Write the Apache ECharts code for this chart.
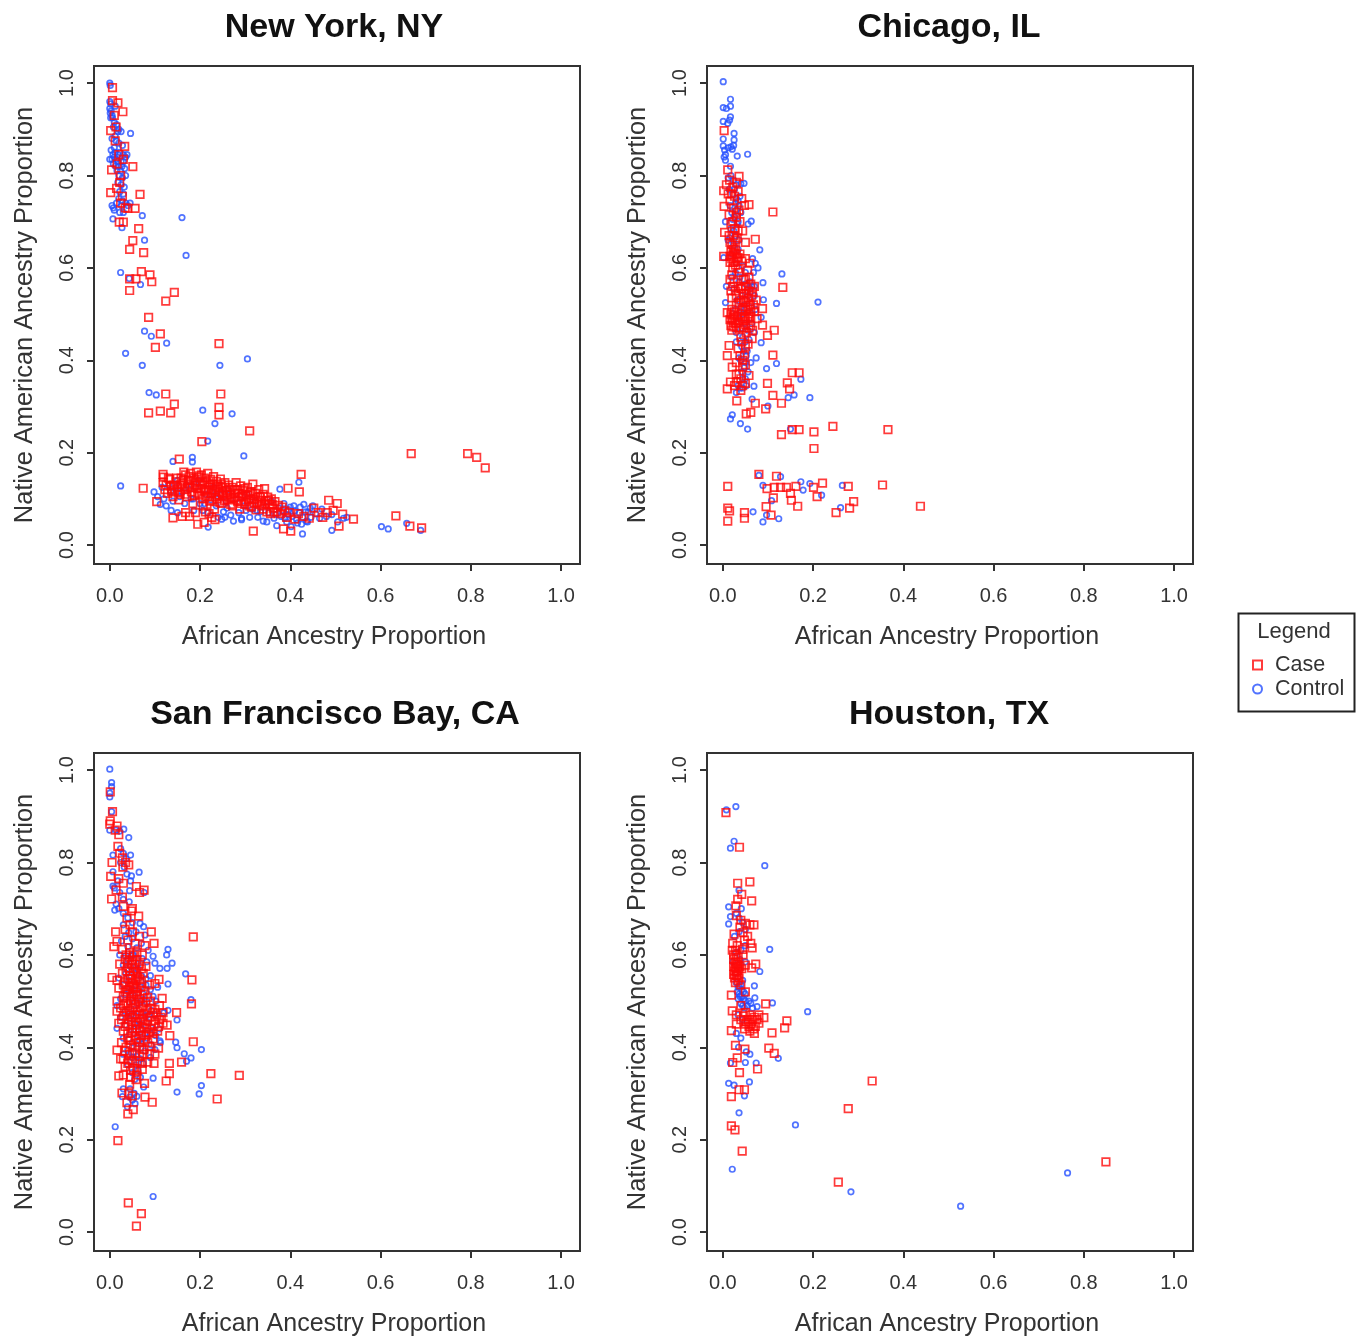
<!DOCTYPE html>
<html><head><meta charset="utf-8">
<style>html,body{margin:0;padding:0;background:#fff}#c{width:1360px;height:1338px}</style>
<script src="https://cdn.jsdelivr.net/npm/echarts@6/dist/echarts.min.js"></script>
</head><body><div id="c"></div>
<script>
const panelTitles = ["New York, NY","Chicago, IL","San Francisco Bay, CA","Houston, TX"];
const xName = "African Ancestry Proportion";
const yName = "Native American Ancestry Proportion";
const tickValues = [0,0.2,0.4,0.6,0.8,1.0];

const nyCase = [[.006,.99],[.018,.957],[.006,.962],[.029,.938],[.002,.897],[.033,.863],[.051,.819],[.067,.759],[.002,.763],[.056,.729],[.04,.729],[.015,.772],[.03,.699],[.021,.699],[.004,.812],[.03,.835],[.01,.93],[.014,.905],[.012,.875],[.02,.845],[.016,.825],[.024,.80],[.022,.785],[.028,.755],[.024,.74],[.034,.73],
[.064,.685],[.051,.659],[.044,.64],[.075,.633],[.07,.592],[.089,.585],[.093,.57],[.044,.576],[.058,.576],[.044,.551],[.143,.547],[.124,.528],[.086,.493],[.112,.457],[.101,.428],[.242,.436],[.124,.327],[.246,.327],[.143,.305],[.086,.286],[.112,.29],[.135,.286],[.242,.298],[.242,.282],[.31,.247],[.204,.224],[.154,.186],[.668,.198],[.793,.198],[.813,.19],[.832,.167],[.634,.063],[.665,.041],[.691,.037],[.074,.123],[.424,.153],[.42,.115],[.395,.123],[.485,.097],[.504,.09],[.54,.056],[.516,.067],[.508,.041],[.318,.03],[.401,.03],[.385,.035],[.14,.059],[.195,.045],[.209,.049],[.104,.094],[.118,.153],[.119,.147],
[.118,.135],[.122,.12],[.128,.112],[.133,.142],[.136,.128],[.14,.105],[.143,.118],[.147,.137],[.15,.125],[.153,.098],[.156,.11],[.158,.145],[.161,.133],[.164,.158],[.166,.12],[.168,.152],[.171,.105],[.174,.14],[.177,.128],[.179,.155],[.181,.115],[.184,.09],[.186,.145],[.189,.135],[.19,.07],[.192,.158],[.194,.122],[.197,.147],[.199,.108],[.201,.138],[.203,.152],[.205,.13],[.207,.085],[.209,.118],[.211,.145],[.213,.105],[.215,.135],[.217,.155],[.219,.125],[.221,.095],[.223,.142],[.225,.112],[.228,.132],[.23,.148],[.232,.078],[.234,.12],[.236,.138],[.238,.1],[.24,.128],[.243,.115],[.245,.143],[.248,.09],[.25,.125],[.252,.105],[.255,.135],[.258,.118],[.26,.098],[.263,.13],[.266,.11],[.268,.088],[.271,.125],[.274,.102],[.277,.12],[.28,.135],[.283,.095],[.285,.112],[.288,.078],[.29,.128],[.293,.105],[.296,.118],[.299,.088],[.302,.108],[.305,.125],[.308,.098],[.311,.115],[.314,.082],[.317,.132],[.32,.1],[.323,.112],[.326,.092],[.33,.12],[.333,.105],[.336,.085],[.34,.11],[.343,.122],[.346,.096],[.35,.104],[.354,.088],[.358,.1],[.362,.08],[.366,.094],[.37,.072],[.374,.086],[.378,.068],[.382,.082],[.388,.074],[.392,.06],[.398,.07],[.41,.056],[.418,.068],[.43,.062],[.442,.058],[.452,.08],[.462,.07],[.472,.06],[.482,.07],[.495,.075],[.16,.062],[.168,.07],[.177,.062],[.212,.072],[.22,.068],[.226,.06],[.233,.055]];
const nyCaseDense = [[.178,.14],[.183,.125],[.187,.108],[.191,.13],[.195,.112],[.198,.15],[.202,.122],[.206,.1],[.21,.132],[.214,.12],[.218,.105],[.222,.13],[.226,.098],[.229,.118],[.233,.104],[.237,.125],[.241,.108],[.244,.092],[.247,.132],[.25,.112],[.254,.096],[.257,.125],[.261,.108],[.265,.12],[.269,.1],[.272,.085],[.276,.112],[.28,.098],[.284,.12],[.287,.104],[.291,.09],[.295,.11],[.298,.122],[.302,.094],[.306,.108],[.31,.085],[.313,.1],[.317,.112],[.32,.09],[.324,.076],[.328,.104],[.332,.088],[.336,.097],[.34,.078],[.344,.09],[.348,.072],[.352,.096],[.356,.068],[.36,.088],[.364,.072],[.125,.13],[.13,.145],[.137,.115],[.142,.13],[.148,.145],[.152,.115],[.157,.13],[.163,.14],[.167,.11],[.172,.125],[.176,.148]];
const nyControl = [[0,1],[.001,.995],[0,.96],[.002,.955],[0,.945],[.003,.94],[.001,.935],[.005,.93],[.002,.925],[.012,.95],[.006,.925],[.01,.915],[.015,.91],[.02,.9],[.008,.905],[.018,.895],[.012,.885],[.025,.895],[.005,.88],[.014,.875],[.02,.87],[.028,.865],[.003,.855],[.01,.86],[.007,.845],[.012,.85],[.018,.845],[.022,.85],[.03,.845],[.035,.84],[0,.835],[.005,.835],[.01,.84],[.014,.835],[.018,.83],[.025,.83],[.03,.83],[.038,.845],[.008,.825],[.013,.82],[.02,.82],[.027,.82],[.016,.81],[.024,.81],[.033,.815],[.02,.8],[.028,.795],[.035,.8],[.018,.785],[.025,.78],[.032,.775],[.022,.765],[.03,.76],[.028,.745],[.035,.74],[.02,.75],[.026,.735],[.005,.735],[.01,.725],[.008,.73],[.015,.74],[.04,.735],[.045,.74],[.022,.72],[.03,.72],
[.16,.709],[.169,.627],[.024,.59],[.043,.577],[.068,.564],[.077,.66],[.072,.713],[.046,.891],[.027,.687],[.007,.706],[.077,.463],[.092,.452],[.126,.437],[.035,.415],[.072,.389],[.244,.389],[.305,.403],[.087,.33],[.103,.325],[.206,.292],[.271,.284],[.233,.263],[.217,.225],[.14,.181],[.183,.19],[.183,.18],[.297,.193],[.024,.128],[.419,.136],[.377,.121],[.602,.04],[.617,.035],[.658,.047],[.689,.032],[.427,.024],[.492,.032],[.218,.039],
[.098,.115],[.106,.105],[.112,.088],[.116,.125],[.12,.1],[.125,.085],[.13,.13],[.135,.115],[.14,.095],[.146,.125],[.15,.14],[.155,.105],[.16,.115],[.166,.09],[.17,.13],[.176,.12],[.18,.1],[.186,.075],[.19,.125],[.196,.14],[.2,.09],[.206,.075],[.212,.11],[.218,.07],[.224,.098],[.23,.125],[.236,.085],[.24,.06],[.246,.108],[.252,.072],[.258,.095],[.262,.12],[.268,.065],[.274,.052],[.28,.1],[.286,.07],[.292,.058],[.298,.085],[.304,.11],[.31,.06],[.316,.078],[.322,.095],[.328,.06],[.334,.072],[.34,.052],[.346,.084],[.352,.07],[.358,.095],[.364,.058],[.37,.042],[.375,.08],[.38,.062],[.386,.09],[.392,.05],[.396,.076],[.402,.04],[.408,.085],[.414,.055],[.42,.07],[.425,.045],[.43,.088],[.436,.052],[.44,.072],[.446,.06],[.45,.085],[.456,.068],[.465,.058],[.47,.078],[.48,.062],[.492,.066],[.505,.05],[.518,.058],[.525,.06],[.292,.055],[.255,.06],[.248,.056],[.136,.075],[.15,.07],
[.382,.075],[.388,.058],[.395,.066],[.4,.082],[.404,.062],[.41,.074],[.416,.048],[.422,.082],[.428,.06],[.434,.072],[.438,.05],[.444,.08],[.302,.075],[.326,.075],[.348,.05],[.368,.066],[.26,.08],[.235,.11],[.21,.09],[.185,.1]];

const chiCase = [[.003,.897],[.011,.812],[.036,.798],[.002,.767],[.058,.737],[.003,.733],[.111,.721],[.004,.677],[.072,.662],[.002,.625],[.133,.558],[.01,.503],[.088,.512],[.088,.476],[.114,.465],[.099,.454],[.065,.447],[.014,.432],[.01,.41],[.021,.385],[.111,.411],[.058,.367],[.154,.373],[.169,.373],[.099,.35],[.143,.351],[.148,.338],[.01,.338],[.017,.353],[.111,.324],[.031,.312],[.072,.307],[.13,.307],[.095,.295],[.052,.284],[.062,.287],[.13,.239],[.154,.25],[.169,.25],[.202,.245],[.244,.257],[.366,.25],[.202,.209],[.08,.153],[.119,.149],[.011,.127],[.221,.134],[.278,.127],[.354,.13],[.438,.084],[.29,.094],[.281,.08],[.251,.07],[.166,.084],[.098,.122],[.114,.125],[.128,.125],[.141,.125],[.162,.127],[.201,.125],[.15,.112],[.112,.102],[.209,.105],[.152,.097],[.096,.083],[.011,.08],[.015,.074],[.048,.07],[.048,.058],[.011,.052],[.107,.065],
[.008,.78],[.015,.79],[.022,.775],[.03,.785],[.012,.76],[.026,.755],[.034,.765],[.016,.745],[.042,.75],[.048,.735],[.024,.73],[.036,.725],[.014,.715],[.03,.71],[.018,.695],[.038,.7],[.026,.685],[.044,.68],[.014,.67],[.032,.665],[.02,.65],[.05,.655],[.028,.64],[.038,.63],[.016,.625],[.024,.612],[.03,.62],[.042,.615],[.05,.62],[.06,.61],[.022,.6],[.036,.59],[.055,.595],[.046,.575],[.062,.565],[.025,.57],[.034,.56],[.018,.55],[.04,.555],[.03,.54],[.052,.545],[.066,.548],[.02,.535],[.036,.525],[.046,.53],[.06,.52],[.074,.53],[.05,.51],[.025,.505],[.032,.495],[.04,.5],[.058,.5],[.07,.505],[.02,.49],[.028,.48],[.036,.482],[.048,.49],[.018,.475],[.046,.47],[.062,.475],[.076,.49],[.052,.46],[.04,.45],[.056,.435],[.034,.425],[.048,.41],[.03,.395],[.044,.385],[.036,.37],[.05,.35],[.026,.345],[.04,.335],[.03,.352]];
const chiCaseDense = [[.018,.635],[.022,.628],[.026,.632],[.02,.62],[.03,.63],[.024,.64],[.034,.622],[.016,.612],[.028,.606],[.034,.598],[.02,.585],[.016,.575],[.022,.56],[.028,.55],[.02,.51],[.024,.498],[.018,.5],[.022,.485],[.026,.492],[.016,.488],[.03,.47],[.024,.472],[.02,.465],[.05,.525],[.056,.515],[.044,.51],[.062,.51],[.068,.52],[.05,.495],[.056,.49],[.062,.495],[.044,.49],[.038,.47],[.05,.478],[.058,.47],[.066,.465],[.042,.555],[.05,.56],[.058,.55],[.046,.545],[.056,.535],[.064,.54],[.07,.56],[.05,.575],[.058,.58],[.03,.52],[.04,.53],[.042,.44],[.05,.43],[.038,.41],[.044,.4],[.05,.39],[.03,.37],[.04,.36],[.044,.345],[.02,.76],[.03,.72],[.022,.7],[.024,.67],[.034,.68],[.028,.66],[.016,.655]];
const chiControl = [[.001,1.003],[.017,.965],[.017,.95],[.001,.947],[.008,.945],[.017,.927],[.015,.92],[.001,.917],[.011,.913],[.025,.891],[.025,.877],[.001,.879],[.001,.864],[.032,.842],[.055,.846],[.021,.857],[.017,.82],[.006,.833],[.047,.783],[.063,.701],[.082,.639],[.131,.587],[.089,.568],[.211,.526],[.119,.523],[.09,.531],[.085,.493],[.085,.438],[.074,.405],[.097,.382],[.119,.393],[.173,.359],[.158,.325],[.145,.319],[.193,.319],[.069,.344],[.065,.316],[.1,.301],[.021,.282],[.017,.273],[.039,.263],[.055,.251],[.15,.251],[.08,.151],[.128,.148],[.089,.129],[.173,.137],[.193,.133],[.178,.119],[.265,.129],[.219,.108],[.261,.081],[.067,.072],[.097,.065],[.089,.05],[.124,.057],[.108,.096],
[.004,.855],[.012,.86],[.018,.862],[.024,.865],[.006,.845],[.003,.84],[.012,.795],[.018,.8],[.024,.79],[.03,.78],[.04,.782],[.014,.77],[.022,.76],[.03,.75],[.038,.755],[.016,.735],[.028,.74],[.036,.735],[.02,.72],[.03,.725],[.04,.72],[.006,.7],[.022,.705],[.032,.695],[.056,.695],[.018,.685],[.028,.67],[.036,.66],[.012,.66],[.024,.65],[.034,.64],[.002,.622],[.02,.63],[.03,.61],[.044,.605],[.066,.62],[.072,.61],[.078,.6],[.008,.56],[.02,.58],[.028,.59],[.038,.58],[.05,.59],[.068,.59],[.036,.57],[.05,.565],[.07,.56],[.024,.555],[.042,.54],[.056,.54],[.07,.54],[.032,.53],[.048,.52],[.064,.525],[.006,.525],[.028,.51],[.04,.505],[.056,.505],[.072,.51],[.036,.49],[.05,.48],[.064,.48],[.042,.47],[.056,.465],[.07,.46],[.03,.46],[.044,.45],[.058,.445],[.03,.44],[.042,.43],[.054,.42],[.036,.405],[.05,.395],[.062,.395],[.042,.375],[.05,.36],[.034,.345],[.044,.34],[.03,.33],
[.06,.57],[.06,.555],[.064,.56],[.04,.515],[.044,.5],[.05,.44],[.046,.42],[.052,.41],[.04,.4],[.048,.385],[.056,.375],[.044,.36],[.052,.345],[.038,.34],[.026,.77],[.034,.745],[.026,.71],[.034,.7],[.024,.68],[.016,.665]];

const sfCase = [[.001,.953],[.006,.91],[.001,.89],[0,.883],[.016,.879],[.018,.835],[.005,.8],[.042,.795],[.029,.79],[.002,.77],[.059,.748],[.076,.74],[.066,.735],[.004,.721],[.048,.695],[.064,.684],[.092,.65],[.013,.65],[.185,.639],[.016,.629],[.009,.618],[.098,.625],[.005,.551],[.182,.546],[.109,.547],[.1,.538],[.181,.494],[.148,.475],[.116,.506],[.127,.448],[.133,.425],[.185,.412],[.016,.478],[.016,.394],[.098,.365],[.159,.368],[.132,.365],[.132,.343],[.125,.327],[.224,.343],[.287,.339],[.238,.288],[.077,.322],[.078,.292],[.094,.281],[.027,.301],[.044,.32],[.052,.265],[.04,.256],[.018,.198],[.041,.063],[.07,.04],[.059,.013],[.02,.338],
[.012,.87],[.02,.86],[.022,.82],[.028,.81],[.035,.8],[.02,.765],[.03,.755],[.014,.74],[.028,.725],[.03,.705],[.05,.7],[.038,.68],[.045,.665],[.034,.655],[.05,.65],[.066,.64],[.04,.632],[.056,.625],[.078,.62],[.028,.612],[.044,.605],[.06,.605],[.072,.6],[.034,.59],[.05,.588],[.066,.58],[.022,.58],[.04,.572],[.056,.57],[.08,.575],[.028,.56],[.046,.555],[.062,.552],[.074,.56],[.016,.545],[.034,.54],[.052,.535],[.07,.54],[.088,.535],[.02,.528],[.04,.525],[.06,.52],[.078,.522],[.03,.51],[.048,.51],[.066,.505],[.084,.508],[.016,.5],[.036,.495],[.056,.492],[.074,.49],[.09,.5],[.11,.49],[.024,.485],[.044,.48],[.062,.478],[.082,.48],[.1,.482],[.118,.475],[.03,.468],[.05,.465],[.07,.462],[.09,.465],[.11,.46],[.02,.452],[.04,.45],[.058,.448],[.078,.45],[.098,.45],[.118,.452],[.03,.435],[.05,.432],[.066,.435],[.086,.432],[.106,.435],[.04,.42],[.058,.418],[.076,.415],[.096,.418],[.026,.41],[.046,.405],[.066,.4],[.088,.402],[.108,.398],[.034,.392],[.056,.388],[.074,.385],[.1,.385],[.024,.375],[.042,.372],[.062,.37],[.084,.368],[.034,.358],[.052,.355],[.072,.352],[.03,.34],[.046,.335],[.06,.34],[.042,.3],[.05,.295],[.038,.28],[.058,.33]];
const sfCaseDense = [[.036,.6],[.044,.595],[.052,.6],[.048,.58],[.04,.585],[.056,.58],[.036,.565],[.044,.565],[.052,.565],[.06,.56],[.04,.548],[.05,.548],[.058,.545],[.066,.548],[.03,.535],[.044,.532],[.058,.528],[.068,.53],[.038,.515],[.052,.515],[.06,.51],[.074,.515],[.046,.5],[.054,.503],[.064,.498],[.08,.498],[.04,.49],[.05,.485],[.07,.485],[.09,.485],[.036,.478],[.056,.47],[.066,.47],[.076,.472],[.096,.475],[.104,.47],[.04,.46],[.048,.455],[.062,.455],[.084,.458],[.1,.458],[.114,.465],[.034,.445],[.05,.44],[.06,.44],[.072,.442],[.092,.44],[.108,.445],[.04,.43],[.056,.425],[.07,.425],[.08,.428],[.096,.43],[.046,.415],[.066,.41],[.084,.41],[.036,.4],[.056,.4],[.076,.395],[.044,.385],[.066,.38],[.088,.385],[.05,.37],[.072,.365],[.04,.365],[.06,.35],[.046,.35],[.03,.375],[.082,.44],[.074,.46],[.044,.47],[.054,.53],[.048,.54],[.06,.59],[.07,.57],[.034,.52],[.03,.49],[.026,.46]];
const sfControl = [[0,1.002],[.004,.973],[.004,.964],[0,.942],[0,.95],[.004,.91],[0,.87],[.031,.872],[.042,.854],[.046,.816],[.007,.816],[.065,.779],[.007,.78],[.048,.771],[.007,.749],[.044,.739],[.076,.735],[.043,.715],[.011,.697],[.067,.668],[.075,.661],[.078,.643],[.129,.612],[.126,.6],[.138,.582],[.096,.597],[.111,.571],[.127,.571],[.1,.582],[.168,.559],[.129,.537],[.18,.503],[.129,.48],[.149,.459],[.016,.441],[.111,.414],[.146,.411],[.149,.399],[.203,.395],[.165,.386],[.18,.377],[.17,.37],[.096,.333],[.203,.317],[.198,.299],[.149,.303],[.075,.314],[.028,.293],[.05,.286],[.06,.294],[.039,.271],[.012,.228],[.096,.077],
[.014,.87],[.022,.868],[.024,.83],[.03,.82],[.036,.808],[.024,.8],[.032,.79],[.038,.775],[.046,.76],[.018,.76],[.01,.745],[.022,.735],[.03,.72],[.014,.71],[.02,.7],[.03,.69],[.04,.68],[.05,.67],[.03,.665],[.042,.648],[.058,.65],[.034,.64],[.05,.635],[.07,.625],[.026,.63],[.04,.618],[.06,.615],[.085,.61],[.022,.6],[.036,.598],[.052,.6],[.072,.592],[.03,.578],[.046,.575],[.062,.58],[.082,.585],[.036,.56],[.054,.56],[.07,.555],[.09,.555],[.02,.55],[.042,.545],[.06,.545],[.08,.548],[.03,.535],[.05,.525],[.068,.53],[.09,.525],[.106,.53],[.036,.515],[.056,.51],[.074,.515],[.096,.51],[.024,.505],[.044,.498],[.064,.495],[.082,.498],[.102,.5],[.016,.49],[.034,.478],[.054,.482],[.072,.475],[.092,.48],[.12,.475],[.024,.465],[.044,.462],[.062,.458],[.082,.455],[.1,.47],[.034,.448],[.054,.44],[.072,.44],[.092,.442],[.11,.44],[.044,.428],[.062,.425],[.082,.42],[.102,.425],[.03,.42],[.05,.41],[.07,.408],[.092,.405],[.112,.41],[.04,.395],[.06,.398],[.078,.392],[.1,.395],[.03,.385],[.05,.378],[.068,.375],[.09,.378],[.04,.362],[.058,.362],[.074,.365],[.05,.345],[.062,.35],[.068,.335],[.055,.33],[.045,.31],[.054,.3],[.03,.31],[.044,.292],[.056,.278],
[.048,.47],[.058,.468],[.068,.45],[.078,.468],[.086,.47],[.042,.52],[.046,.535],[.058,.535],[.07,.5],[.08,.535],[.05,.6],[.04,.59],[.062,.57],[.056,.45],[.066,.415],[.078,.43],[.09,.43],[.052,.39],[.04,.38],[.06,.38]];

const hoCase = [[.007,.908],[.037,.833],[.06,.758],[.033,.755],[.064,.717],[.042,.731],[.033,.72],[.029,.706],[.069,.665],[.021,.61],[.073,.58],[.019,.513],[.095,.494],[.021,.479],[.142,.457],[.137,.442],[.109,.431],[.091,.464],[.019,.436],[.028,.404],[.049,.396],[.102,.398],[.114,.387],[.077,.353],[.037,.345],[.022,.367],[.032,.377],[.036,.308],[.048,.308],[.019,.293],[.331,.327],[.278,.267],[.019,.23],[.027,.221],[.043,.175],[.256,.108],[.849,.152],
[.03,.685],[.04,.675],[.05,.668],[.038,.66],[.06,.665],[.045,.648],[.055,.64],[.025,.645],[.048,.632],[.062,.625],[.065,.615],[.032,.62],[.044,.612],[.024,.6],[.034,.595],[.045,.6],[.03,.58],[.038,.575],[.028,.572],[.034,.565],[.042,.57],[.05,.578],[.064,.572],[.03,.555],[.036,.55],[.028,.54],[.04,.535],[.05,.52],[.03,.47],[.04,.49],[.05,.475],[.06,.47],[.07,.465],[.08,.47],[.04,.46],[.052,.455],[.062,.45],[.072,.445],[.08,.452],[.03,.45],[.048,.44],[.06,.435],[.07,.43]];
const hoCaseDense = [[.024,.59],[.028,.585],[.032,.58],[.024,.575],[.034,.575],[.026,.565],[.03,.565],[.024,.558],[.032,.555],[.036,.57],[.026,.55],[.034,.545],[.03,.6],[.022,.625],[.028,.61],[.046,.468],[.056,.46],[.066,.46],[.076,.46],[.058,.445],[.068,.44],[.05,.45]];
const hoControl = [[.008,.914],[.029,.921],[.025,.846],[.017,.831],[.093,.793],[.036,.74],[.013,.704],[.041,.7],[.017,.683],[.013,.667],[.104,.612],[.082,.564],[.07,.533],[.071,.507],[.11,.496],[.188,.477],[.123,.376],[.074,.366],[.05,.367],[.017,.366],[.013,.322],[.025,.318],[.059,.325],[.048,.295],[.036,.258],[.161,.232],[.021,.136],[.284,.087],[.527,.056],[.764,.128],
[.03,.69],[.036,.68],[.044,.67],[.05,.655],[.036,.65],[.026,.64],[.05,.62],[.04,.61],[.03,.605],[.022,.585],[.038,.59],[.05,.585],[.028,.56],[.044,.545],[.03,.54],[.036,.532],[.042,.525],[.032,.52],[.05,.515],[.038,.51],[.046,.505],[.058,.5],[.04,.495],[.054,.49],[.066,.485],[.076,.488],[.034,.47],[.044,.46],[.03,.43],[.04,.42],[.052,.39],[.06,.385],[.035,.4],
[.034,.53],[.04,.535],[.046,.52],[.036,.515],[.042,.51],[.034,.505],[.05,.5],[.044,.49],[.062,.495],[.048,.485]];

const caseColor = "#ff0a0a", controlColor = "#2650ff", inkColor = "#333333";
const panelData = [[nyCase.concat(nyCaseDense),nyControl],[chiCase.concat(chiCaseDense),chiControl],[sfCase.concat(sfCaseDense),sfControl],[hoCase.concat(hoCaseDense),hoControl]];
const panelBox = [[94,66],[707,66],[94,753],[707,753]];
const titleLeft = [329,944,330,944];
const xLim = [-0.035,1.042], yLim = [-0.041,1.037];
const labelFont = "Liberation Sans";

const option = {animation:false,backgroundColor:"#fff",textStyle:{fontFamily:labelFont},
 title:[],grid:[],xAxis:[],yAxis:[],series:[],
 legend:{orient:"vertical",left:1247,top:649,itemWidth:9,itemHeight:9,itemGap:2,selectedMode:false,
  textStyle:{fontSize:21.5,color:inkColor,fontFamily:labelFont,padding:[0,0,0,8]},
  data:[{name:"Case",icon:"rect"},{name:"Control",icon:"circle"}]},
 graphic:[
  {type:"rect",shape:{x:1238.5,y:613.5,width:116,height:98},style:{fill:"#fff",stroke:"#222",lineWidth:2},z:-1},
  {type:"text",x:1294,y:632,style:{text:"Legend",fill:inkColor,font:"22px 'Liberation Sans'",textAlign:"center",textVerticalAlign:"middle"}}
 ]};
panelData.forEach((d,i)=>{
 const [bx,by]=panelBox[i];
 option.title.push({text:panelTitles[i],left:titleLeft[i],top:by-60,textAlign:"center",
   textStyle:{fontFamily:labelFont,fontWeight:"bold",fontSize:34,color:"#111"}});
 option.grid.push({left:bx,top:by,width:486,height:498,show:true,borderColor:inkColor,borderWidth:2,backgroundColor:"transparent"});
 const line={show:true,onZero:false,lineStyle:{color:inkColor,width:2}};
 const tick={show:true,length:7,customValues:tickValues,lineStyle:{color:inkColor,width:2}};
 const fmt=v=>Number(v).toFixed(1);
 option.xAxis.push({type:"value",gridIndex:i,min:xLim[0],max:xLim[1],splitLine:{show:false},axisLine:line,axisTick:tick,
   axisLabel:{customValues:tickValues,formatter:fmt,fontSize:20,color:inkColor,margin:22},
   name:xName,nameLocation:"middle",nameGap:61,nameMoveOverlap:false,nameTextStyle:{fontSize:25,color:inkColor,padding:[0,6,0,0]}});
 option.yAxis.push({type:"value",gridIndex:i,min:yLim[0],max:yLim[1],splitLine:{show:false},axisLine:line,axisTick:tick,
   axisLabel:{customValues:tickValues,formatter:fmt,fontSize:20,color:inkColor,margin:17,rotate:90},
   name:yName,nameLocation:"middle",nameGap:57,nameMoveOverlap:false,nameTextStyle:{fontSize:25.4,color:inkColor}});
 const mk=(name,data,sym,size,col,z)=>({name,type:"scatter",xAxisIndex:i,yAxisIndex:i,data,symbol:sym,symbolSize:size,z,
   itemStyle:{color:"rgba(255,255,255,0)",borderColor:col,borderWidth:1.7},emphasis:{disabled:true}});
 option.series.push(mk("Control",d[1],"circle",5.5,controlColor,2));
 option.series.push(mk("Case",d[0],"rect",7.5,caseColor,3));
});
const chart=echarts.init(document.getElementById("c"),null,{renderer:"canvas"});
chart.setOption(option);
</script></body></html>
